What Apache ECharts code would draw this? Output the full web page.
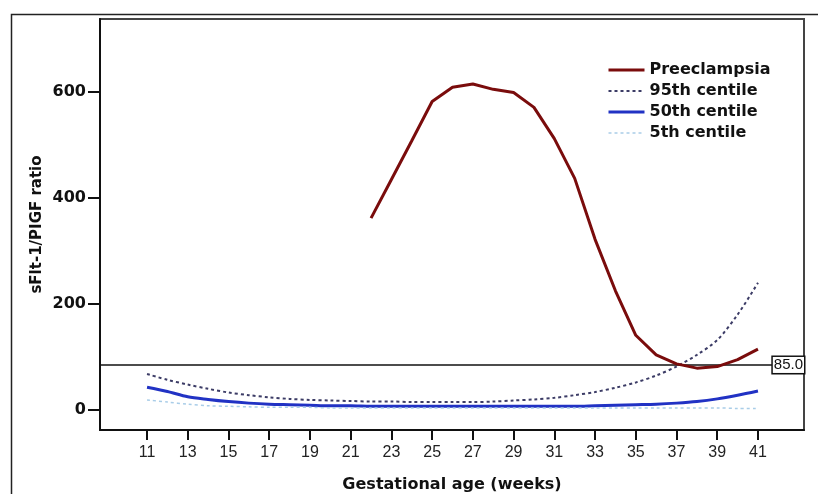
<!DOCTYPE html>
<html>
<head>
<meta charset="utf-8">
<script src="https://cdn.jsdelivr.net/npm/echarts@6/dist/echarts.min.js"></script>
<style>
  html, body { margin: 0; padding: 0; background: #fff; }
</style>
</head>
<body>
<div id="chart" style="width: 818px; height: 494px"></div>
<script>
// gestational weeks for the reference centiles
let weeks = [11, 12, 13, 14, 15, 16, 17, 18, 19, 20, 21, 22, 23, 24, 25, 26,
  27, 28, 29, 30, 31, 32, 33, 34, 35, 36, 37, 38, 39, 40, 41];
let p95 = [68, 57, 48, 40, 33, 28, 24, 21, 19, 18, 17, 16, 16, 15, 15, 15,
  15, 16, 18, 20, 23, 28, 34, 42, 52, 65, 82, 104, 132, 180, 240];
let p50 = [43, 35, 25, 20, 16, 13, 11, 10, 9, 8, 8, 7, 7, 7, 7, 7,
  7, 7, 7, 7, 7, 7, 8, 9, 10, 11, 13, 16, 21, 28, 36];
let p5 = [19, 15, 11, 8, 7, 6, 5, 5, 5, 4, 4, 4, 4, 4, 4, 4,
  4, 4, 4, 4, 4, 4, 4, 4, 4, 4, 4, 4, 4, 3, 3];

// preeclampsia cases
let peWeeks = [22, 23, 24, 25, 26, 27, 28, 29, 30, 31, 32, 33, 34, 35, 36, 37, 38, 39, 40, 41];
let peRatio = [362, 435, 508, 582, 609, 615, 605, 599, 571, 512, 437, 322, 225, 141, 104, 87, 79, 82, 95, 115];

let xTicks = [11, 13, 15, 17, 19, 21, 23, 25, 27, 29, 31, 33, 35, 37, 39, 41];
let yTicks = [0, 200, 400, 600];
let cutoff = 85;

function pairs(xs, ys) {
  return xs.map((x, i) => [x, ys[i]]);
}

let boldFont = "DejaVu Sans";
let chart = echarts.init(document.getElementById("chart"));

chart.setOption({
  animation: false,
  backgroundColor: "#fff",
  graphic: [{
    type: "rect",
    left: 9,
    top: 12,
    shape: { width: 830, height: 500 },
    style: { fill: "none", stroke: "#222", lineWidth: 1.5 },
    silent: true
  }],
  grid: {
    left: 100,
    right: 14,
    top: 19,
    bottom: 64,
    outerBoundsMode: "none",
    containLabel: false,
    show: true,
    borderColor: "#444",
    borderWidth: 2,
    backgroundColor: "transparent"
  },
  legend: {
    orient: "vertical",
    left: 602,
    top: 57,
    itemWidth: 36,
    itemHeight: 15,
    itemGap: 5,
    itemStyle: { opacity: 0 },
    textStyle: {
      fontFamily: boldFont,
      fontWeight: "bold",
      fontSize: 16,
      color: "#111"
    },
    data: [
      { name: "Preeclampsia", lineStyle: { width: 3 } },
      { name: "95th centile", lineStyle: { width: 2 } },
      { name: "50th centile", lineStyle: { width: 3 } },
      { name: "5th centile", lineStyle: { width: 1.5 } }
    ]
  },
  xAxis: {
    type: "value",
    min: 8.69,
    max: 43.26,
    name: "Gestational age (weeks)",
    nameLocation: "middle",
    nameGap: 47,
    nameMoveOverlap: false,
    nameTextStyle: {
      fontFamily: boldFont,
      fontWeight: "bold",
      fontSize: 16,
      color: "#111"
    },
    axisLine: { onZero: false, lineStyle: { color: "#111", width: 2 } },
    axisTick: { customValues: xTicks, length: 10, lineStyle: { color: "#111", width: 2 } },
    axisLabel: {
      customValues: xTicks,
      margin: 15,
      fontFamily: "Liberation Sans",
      fontSize: 16,
      color: "#222"
    },
    splitLine: { show: false }
  },
  yAxis: {
    type: "value",
    min: -37.7,
    max: 737.7,
    name: "sFlt-1/PIGF ratio",
    nameLocation: "middle",
    nameGap: 55,
    nameMoveOverlap: false,
    nameTextStyle: {
      fontFamily: boldFont,
      fontWeight: "bold",
      fontSize: 15,
      color: "#111"
    },
    axisLine: { show: true, lineStyle: { color: "#111", width: 2 } },
    axisTick: { show: true, customValues: yTicks, length: 12, lineStyle: { color: "#111", width: 2 } },
    axisLabel: {
      customValues: yTicks,
      margin: 14,
      fontFamily: boldFont,
      fontWeight: "bold",
      fontSize: 16,
      color: "#111"
    },
    splitLine: { show: false }
  },
  series: [
    {
      name: "Preeclampsia",
      type: "line",
      symbol: "none",
      z: 5,
      itemStyle: { color: "#7a0c0c" },
      lineStyle: { color: "#7a0c0c", width: 3 },
      data: pairs(peWeeks, peRatio)
    },
    {
      name: "95th centile",
      type: "line",
      symbol: "none",
      smooth: 0.3,
      itemStyle: { color: "#3c3c66" },
      lineStyle: { color: "#3c3c66", width: 2, type: [3, 3] },
      data: pairs(weeks, p95)
    },
    {
      name: "50th centile",
      type: "line",
      symbol: "none",
      smooth: 0.3,
      itemStyle: { color: "#2132c4" },
      lineStyle: { color: "#2132c4", width: 3 },
      data: pairs(weeks, p50),
      markLine: {
        silent: true,
        symbol: "none",
        lineStyle: { color: "#111", width: 1.5, type: "solid" },
        label: {
          position: "insideEnd",
          distance: 0,
          formatter: "85.0",
          fontFamily: "Liberation Sans",
          fontSize: 15,
          color: "#111",
          backgroundColor: "#fff",
          borderColor: "#111",
          borderWidth: 1.5,
          padding: [1, 1, 0, 1]
        },
        data: [{ yAxis: cutoff }]
      }
    },
    {
      name: "5th centile",
      type: "line",
      symbol: "none",
      smooth: 0.3,
      itemStyle: { color: "#a9cde8" },
      lineStyle: { color: "#a9cde8", width: 1.5, type: [3, 3] },
      data: pairs(weeks, p5)
    }
  ]
});
</script>
</body>
</html>
